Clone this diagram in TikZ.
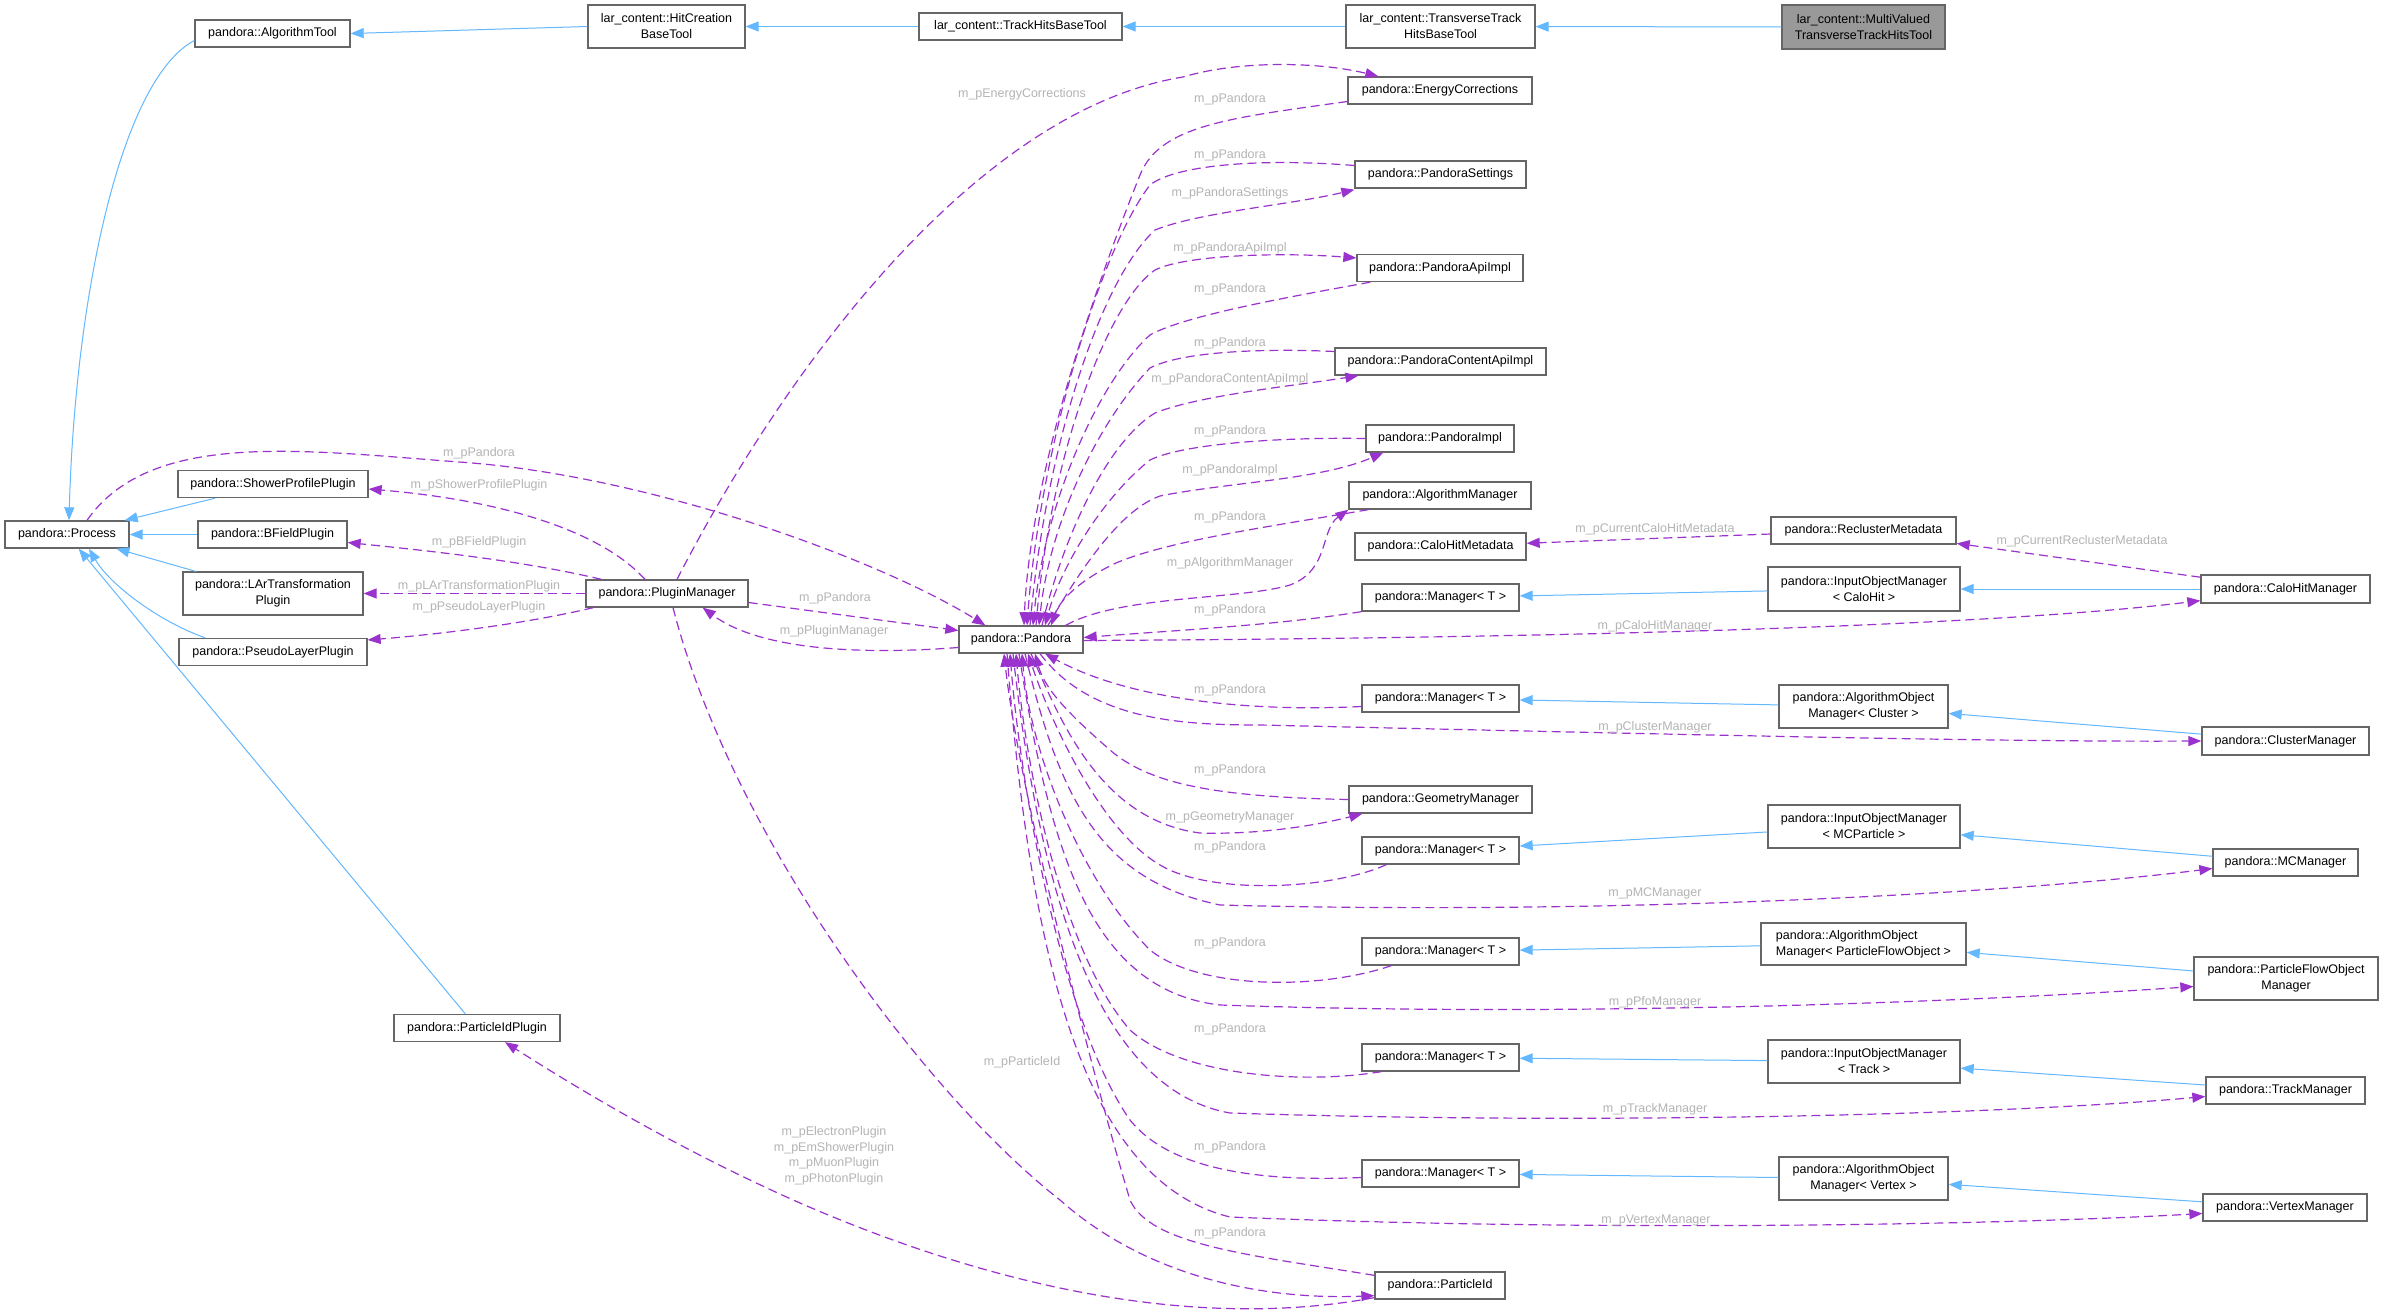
\documentclass[tikz,border=0pt]{standalone}
\usepackage{fontspec}
\setmainfont{Liberation Sans}
\usetikzlibrary{arrows.meta,calc}
\definecolor{edgeblue}{HTML}{63B8FF}
\definecolor{edgepurple}{HTML}{9A32CD}
\definecolor{boxborder}{HTML}{666666}
\definecolor{lblgray}{HTML}{B4B4B4}
\definecolor{mainfill}{HTML}{999999}
\begin{document}
\begin{tikzpicture}[x=1pt,y=-1pt,
  cls/.style={draw=boxborder, line width=1.3pt, fill=white, inner sep=0pt, align=center,
    font=\fontsize{12.5}{16}\selectfont, text=black, minimum height=27pt},
  inh/.style={draw=edgeblue, line width=1pt, -{Triangle[length=13pt,width=10pt]}},
  dep/.style={draw=edgepurple, line width=1.2pt, dash pattern=on 9pt off 5pt, -{Triangle[length=13pt,width=10pt]}},
  lbl/.style={text=lblgray, font=\fontsize{12.5}{15.5}\selectfont, inner sep=0pt, align=center}
]
\useasboundingbox (0,0) rectangle (2383,1316);
\fill[white] (0,0) rectangle (2383,1316);

% ---------- nodes ----------
\node[cls, minimum width=163pt, minimum height=44pt, fill=mainfill] (mv) at (1863.5,27) {lar\_content::MultiValued\\TransverseTrackHitsTool};
\node[cls, minimum width=189pt, minimum height=43pt] (tt) at (1440.5,26.5) {lar\_content::TransverseTrack\\HitsBaseTool};
\node[cls, minimum width=203pt] (thb) at (1020.5,26.5) {lar\_content::TrackHitsBaseTool};
\node[cls, minimum width=157pt, minimum height=43pt] (hc) at (666.5,26.5) {lar\_content::HitCreation\\BaseTool};
\node[cls, minimum width=155pt] (at) at (272.5,33.5) {pandora::AlgorithmTool};
\node[cls, minimum width=124pt] (proc) at (67,534.5) {pandora::Process};
\node[cls, minimum width=190pt] (spp) at (273,484) {pandora::ShowerProfilePlugin};
\node[cls, minimum width=149pt] (bfp) at (272.5,534.5) {pandora::BFieldPlugin};
\node[cls, minimum width=180pt, minimum height=43pt] (lar) at (273,593.5) {pandora::LArTransformation\\Plugin};
\node[cls, minimum width=188pt] (plp) at (273,652) {pandora::PseudoLayerPlugin};
\node[cls, minimum width=162pt] (pm) at (667,593.5) {pandora::PluginManager};
\node[cls, minimum width=166pt] (pidp) at (477,1028) {pandora::ParticleIdPlugin};
\node[cls, minimum width=124pt] (pan) at (1021,639.5) {pandora::Pandora};
\node[cls, minimum width=184pt] (ec) at (1440,90.5) {pandora::EnergyCorrections};
\node[cls, minimum width=171pt] (ps) at (1440.5,174.5) {pandora::PandoraSettings};
\node[cls, minimum width=166pt] (pai) at (1440,268) {pandora::PandoraApiImpl};
\node[cls, minimum width=211pt] (pcai) at (1440.5,361.5) {pandora::PandoraContentApiImpl};
\node[cls, minimum width=148pt] (pi) at (1440,438.5) {pandora::PandoraImpl};
\node[cls, minimum width=182pt] (am) at (1440,495.5) {pandora::AlgorithmManager};
\node[cls, minimum width=171pt] (chm) at (1440.5,546.5) {pandora::CaloHitMetadata};
\node[cls, minimum width=157pt] (m1) at (1440.5,597.5) {pandora::Manager< T >};
\node[cls, minimum width=157pt] (m2) at (1440.5,698.5) {pandora::Manager< T >};
\node[cls, minimum width=183pt] (gm) at (1440.5,799.5) {pandora::GeometryManager};
\node[cls, minimum width=157pt] (m3) at (1440.5,850.5) {pandora::Manager< T >};
\node[cls, minimum width=157pt] (m4) at (1440.5,951.5) {pandora::Manager< T >};
\node[cls, minimum width=157pt] (m5) at (1440.5,1057.5) {pandora::Manager< T >};
\node[cls, minimum width=157pt] (m6) at (1440.5,1173.5) {pandora::Manager< T >};
\node[cls, minimum width=130pt] (pid) at (1440,1285.5) {pandora::ParticleId};
\node[cls, minimum width=185pt] (rm) at (1863.5,530.5) {pandora::ReclusterMetadata};
\node[cls, minimum width=192pt, minimum height=44pt] (iomc) at (1864,589) {pandora::InputObjectManager\\< CaloHit >};
\node[cls, minimum width=169pt, minimum height=43pt] (aomc) at (1863.5,706.5) {pandora::AlgorithmObject\\Manager< Cluster >};
\node[cls, minimum width=192pt, minimum height=43pt] (iommc) at (1864,826.5) {pandora::InputObjectManager\\< MCParticle >};
\node[cls, minimum width=205pt, minimum height=42pt, align=left] (aompfo) at (1863.5,944) {pandora::AlgorithmObject\\Manager< ParticleFlowObject >};
\node[cls, minimum width=192pt, minimum height=43pt] (iomt) at (1864,1061.5) {pandora::InputObjectManager\\< Track >};
\node[cls, minimum width=169pt, minimum height=43pt] (aomv) at (1863.5,1178.5) {pandora::AlgorithmObject\\Manager< Vertex >};
\node[cls, minimum width=169pt, minimum height=28pt] (chmgr) at (2285.5,589) {pandora::CaloHitManager};
\node[cls, minimum width=167pt, minimum height=28pt] (clm) at (2285.5,741) {pandora::ClusterManager};
\node[cls, minimum width=145pt] (mcm) at (2285.5,862.5) {pandora::MCManager};
\node[cls, minimum width=184pt, minimum height=43pt] (pfom) at (2286,978.5) {pandora::ParticleFlowObject\\Manager};
\node[cls, minimum width=159pt] (tm) at (2285.5,1090.5) {pandora::TrackManager};
\node[cls, minimum width=164pt] (vm) at (2285,1207.5) {pandora::VertexManager};

% ---------- inheritance ----------
\draw[inh] (mv) -- (tt);
\draw[inh] (tt) -- (thb);
\draw[inh] (thb) -- (hc);
\draw[inh] (hc.west) -- (at.east);
\draw[inh] ($(at.west)+(0,7)$) .. controls (120,80) and (75,300) .. ($(proc.north)+(2,0)$);
\draw[inh] (spp) -- (proc);
\draw[inh] (bfp) -- (proc);
\draw[inh] (lar) -- (proc);
\draw[inh] ($(plp.north west)+(27,0)$) .. controls (160,622) and (110,585) .. ($(proc.south)+(22,0)$);
\draw[inh] (pidp) -- (proc);
\draw[inh] (iomc) -- (m1);
\draw[inh] (chmgr) -- (iomc);
\draw[inh] (aomc) -- (m2);
\draw[inh] (clm) -- (aomc);
\draw[inh] (iommc) -- (m3);
\draw[inh] (mcm) -- (iommc);
\draw[inh] (aompfo) -- (m4);
\draw[inh] (pfom) -- (aompfo);
\draw[inh] (iomt) -- (m5);
\draw[inh] (tm) -- (iomt);
\draw[inh] (aomv) -- (m6);
\draw[inh] (vm) -- (aomv);

% ---------- usage: left part ----------
\draw[dep] ($(proc.north)+(20,0)$) .. controls (150,430) and (300,450) .. (459,462) .. controls (650,475) and (880,560) .. ($(pan.north west)+(27,0)$);
\draw[dep] ($(pm.north)+(-22,0)$) .. controls (600,530) and (500,500) .. ($(spp.east)+(0,5)$);
\draw[dep] ($(pm.north west)+(16,0)$) .. controls (520,560) and (420,550) .. ($(bfp.east)+(0,8)$);
\draw[dep] (pm.west) -- (lar.east);
\draw[dep] ($(pm.south west)+(8,0)$) .. controls (520,625) and (430,635) .. ($(plp.east)+(0,-12)$);
\draw[dep] ($(pm.east)+(0,9)$) -- ($(pan.west)+(0,-9)$);
\draw[dep] ($(pan.west)+(0,8)$) .. controls (860,655) and (760,650) .. ($(pm.south east)+(-46,0)$);
\draw[dep] ($(pm.north)+(10,0)$) .. controls (790,360) and (980,110) .. (1183,77) .. controls (1240,60) and (1320,62) .. ($(ec.north west)+(31,0)$);
\draw[dep] ($(pm.south)+(6,0)$) .. controls (730,830) and (920,1090) .. (1060,1200) .. controls (1150,1280) and (1270,1300) .. ($(pid.south west)+(0,-4)$);
\draw[dep] ($(pid.south west)+(0,-2)$) .. controls (1200,1330) and (1000,1290) .. (800,1203) .. controls (680,1150) and (580,1090) .. ($(pidp.south)+(28,0)$);

% ---------- usage: upper column ----------
\draw[dep] ($(ec.west)+(0,11)$) .. controls (1230,118) and (1160,125) .. (1140,175) .. controls (1090,300) and (1030,480) .. ($(pan.north)+(3,0)$);
\draw[dep] ($(ps.west)+(0,-9)$) .. controls (1260,158) and (1175,165) .. (1150,185) .. controls (1100,250) and (1040,450) .. ($(pan.north)+(6,0)$);
\draw[dep] ($(pan.north)+(9,0)$) .. controls (1045,450) and (1100,280) .. (1155,230) .. controls (1200,212) and (1290,205) .. ($(ps.south west)+(0,1)$);
\draw[dep] ($(pai.south west)+(14,0)$) .. controls (1300,295) and (1185,315) .. (1150,335) .. controls (1100,380) and (1045,500) .. ($(pan.north)+(12,0)$);
\draw[dep] ($(pan.north)+(15,0)$) .. controls (1050,450) and (1110,300) .. (1155,270) .. controls (1185,255) and (1280,252) .. ($(pai.west)+(0,-10)$);
\draw[dep] ($(pcai.west)+(0,-10)$) .. controls (1260,348) and (1180,352) .. (1150,368) .. controls (1100,420) and (1050,520) .. ($(pan.north)+(18,0)$);
\draw[dep] ($(pan.north)+(21,0)$) .. controls (1065,530) and (1110,440) .. (1155,413) .. controls (1200,395) and (1300,385) .. ($(pcai.south west)+(24,0)$);
\draw[dep] (pi.west) .. controls (1270,437) and (1180,445) .. (1150,460) .. controls (1100,500) and (1060,570) .. ($(pan.north)+(24,0)$);
\draw[dep] ($(pan.north)+(27,0)$) .. controls (1080,570) and (1120,510) .. (1160,496) .. controls (1230,482) and (1320,480) .. ($(pi.south west)+(18,0)$);
\draw[dep] ($(am.south west)+(20,0)$) .. controls (1280,525) and (1170,540) .. (1116,563) .. controls (1080,580) and (1060,600) .. ($(pan.north)+(30,0)$);
\draw[dep] ($(pan.north east)+(-18,0)$) .. controls (1120,595) and (1240,600) .. (1290,585) .. controls (1330,570) and (1320,530) .. (am.south west);
\draw[dep] (rm) -- (chm);
\draw[dep] (chmgr) -- (rm);

% ---------- usage: managers ----------
\draw[dep] (m1.south west) .. controls (1280,625) and (1180,630) .. ($(pan.east)+(0,-2)$);
\draw[dep] ($(pan.east)+(0,1)$) .. controls (1600,638) and (2000,625) .. ($(chmgr.south west)+(0,-3)$);
\draw[dep] ($(m2.west)+(0,8)$) .. controls (1250,712) and (1130,700) .. ($(pan.south)+(24,0)$);
\draw[dep] ($(pan.south)+(19,0)$) .. controls (1090,720) and (1180,725) .. (1260,725) .. controls (1700,735) and (2000,742) .. (clm.west);
\draw[dep] (gm.west) .. controls (1220,797) and (1150,785) .. (1110,750) .. controls (1070,715) and (1045,690) .. ($(pan.south)+(14,0)$);
\draw[dep] ($(pan.south)+(10,0)$) .. controls (1060,720) and (1100,820) .. (1200,833) .. controls (1270,835) and (1330,822) .. ($(gm.south west)+(14,0)$);
\draw[dep] ($(m3.south west)+(25,0)$) .. controls (1330,890) and (1210,895) .. (1160,865) .. controls (1100,830) and (1050,720) .. ($(pan.south)+(7,0)$);
\draw[dep] ($(pan.south)+(4,0)$) .. controls (1060,800) and (1100,880) .. (1220,905) .. controls (1600,915) and (2000,895) .. ($(mcm.west)+(0,6)$);
\draw[dep] ($(m4.south west)+(30,0)$) .. controls (1320,990) and (1200,990) .. (1150,950) .. controls (1080,880) and (1030,750) .. ($(pan.south)+(1,0)$);
\draw[dep] ($(pan.south)+(-2,0)$) .. controls (1050,850) and (1090,990) .. (1220,1005) .. controls (1600,1018) and (2000,1000) .. ($(pfom.west)+(0,8)$);
\draw[dep] ($(m5.south west)+(20,0)$) .. controls (1300,1085) and (1180,1075) .. (1130,1030) .. controls (1060,950) and (1025,760) .. ($(pan.south)+(-5,0)$);
\draw[dep] ($(pan.south)+(-8,0)$) .. controls (1040,900) and (1100,1090) .. (1230,1113) .. controls (1600,1125) and (2000,1115) .. ($(tm.west)+(0,6)$);
\draw[dep] ($(m6.west)+(0,4)$) .. controls (1260,1182) and (1170,1170) .. (1130,1120) .. controls (1060,1020) and (1020,780) .. ($(pan.south)+(-11,0)$);
\draw[dep] ($(pan.south)+(-14,0)$) .. controls (1030,950) and (1080,1180) .. (1230,1217) .. controls (1600,1232) and (2000,1225) .. ($(vm.west)+(0,6)$);
\draw[dep] ($(pid.north west)+(0,4)$) .. controls (1250,1255) and (1150,1245) .. (1130,1200) .. controls (1100,1100) and (1020,800) .. ($(pan.south)+(-17,0)$);

% ---------- labels ----------
\node[lbl] (l01) at (479,453) {m\_pPandora};
\node[lbl] (l02) at (479,485) {m\_pShowerProfilePlugin};
\node[lbl] (l03) at (479,542) {m\_pBFieldPlugin};
\node[lbl] (l04) at (479,586) {m\_pLArTransformationPlugin};
\node[lbl] (l05) at (479,607) {m\_pPseudoLayerPlugin};
\node[lbl] (l06) at (835,598) {m\_pPandora};
\node[lbl] (l07) at (834,631) {m\_pPluginManager};
\node[lbl] (l08) at (1022,94) {m\_pEnergyCorrections};
\node[lbl] (l09) at (1022,1062) {m\_pParticleId};
\node[lbl] (l10) at (834,1156) {m\_pElectronPlugin\\m\_pEmShowerPlugin\\m\_pMuonPlugin\\m\_pPhotonPlugin};
\node[lbl] (l11) at (1230,99) {m\_pPandora};
\node[lbl] (l12) at (1230,155) {m\_pPandora};
\node[lbl] (l13) at (1230,193) {m\_pPandoraSettings};
\node[lbl] (l14) at (1230,248) {m\_pPandoraApiImpl};
\node[lbl] (l15) at (1230,289) {m\_pPandora};
\node[lbl] (l16) at (1230,343) {m\_pPandora};
\node[lbl] (l17) at (1230,379) {m\_pPandoraContentApiImpl};
\node[lbl] (l18) at (1230,431) {m\_pPandora};
\node[lbl] (l19) at (1230,470) {m\_pPandoraImpl};
\node[lbl] (l20) at (1230,517) {m\_pPandora};
\node[lbl] (l21) at (1230,563) {m\_pAlgorithmManager};
\node[lbl] (l22) at (1230,610) {m\_pPandora};
\node[lbl] (l23) at (1230,690) {m\_pPandora};
\node[lbl] (l24) at (1230,770) {m\_pPandora};
\node[lbl] (l25) at (1230,817) {m\_pGeometryManager};
\node[lbl] (l26) at (1230,847) {m\_pPandora};
\node[lbl] (l27) at (1230,943) {m\_pPandora};
\node[lbl] (l28) at (1230,1029) {m\_pPandora};
\node[lbl] (l29) at (1230,1147) {m\_pPandora};
\node[lbl] (l30) at (1230,1233) {m\_pPandora};
\node[lbl] (l31) at (1655,529) {m\_pCurrentCaloHitMetadata};
\node[lbl] (l32) at (2082,541) {m\_pCurrentReclusterMetadata};
\node[lbl] (l33) at (1655,626) {m\_pCaloHitManager};
\node[lbl] (l34) at (1655,727) {m\_pClusterManager};
\node[lbl] (l35) at (1655,893) {m\_pMCManager};
\node[lbl] (l36) at (1655,1002) {m\_pPfoManager};
\node[lbl] (l37) at (1655,1109) {m\_pTrackManager};
\node[lbl] (l38) at (1656,1220) {m\_pVertexManager};
\end{tikzpicture}
\end{document}
